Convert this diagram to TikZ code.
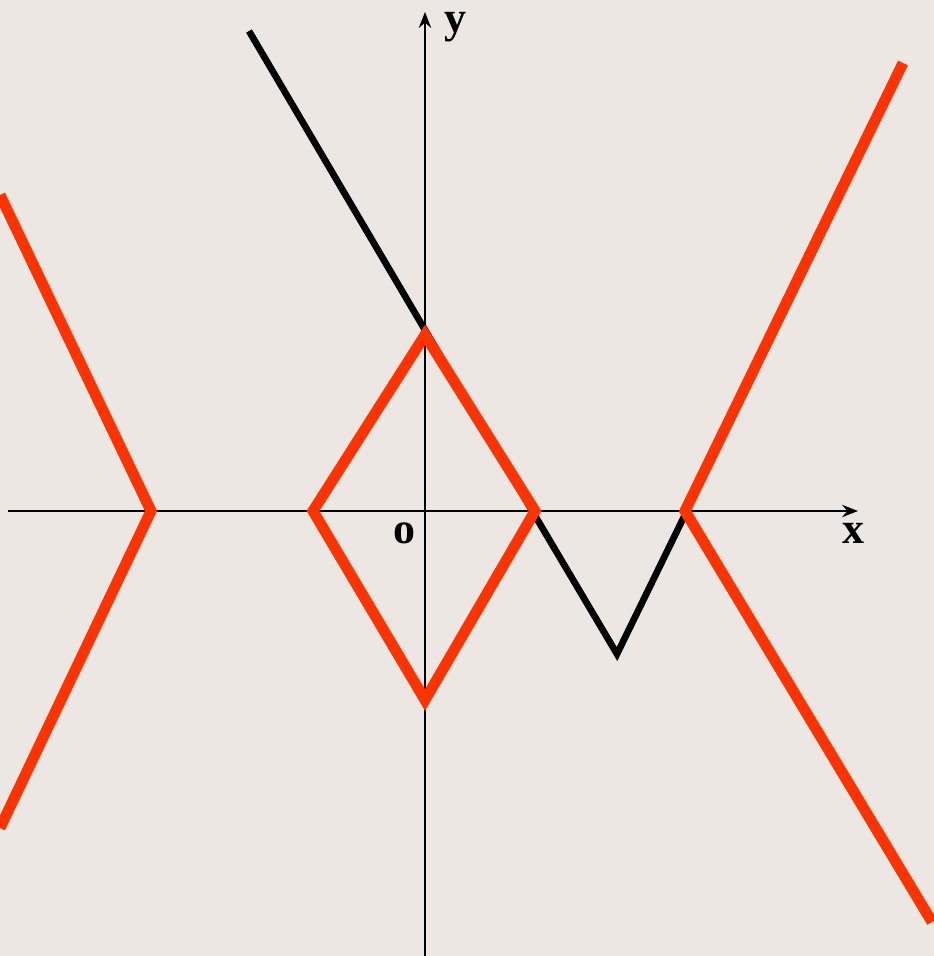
\documentclass[tikz,border=0pt]{standalone}
\usepackage{fontspec}
\setmainfont{Liberation Serif}
\usetikzlibrary{arrows.meta}
\definecolor{bg}{HTML}{ECE7E3}
\definecolor{redl}{HTML}{FF3300}
\tikzset{
  axis/.style={line width=0.6pt,-{Stealth[length=4.5pt,width=3.5pt]}},
  blk/.style={line width=1.9pt,black,line join=miter},
  rd/.style={line width=3.1pt,redl,line join=miter},
  lab/.style={font=\fontsize{12.5}{14}\selectfont\bfseries,inner sep=0pt}
}
\begin{document}
\begin{tikzpicture}[x=0.01cm,y=-0.01cm]
\fill[bg] (0,0) rectangle (934,956);
\useasboundingbox (0,0) rectangle (934,956);
\coordinate (xs) at (8,511);
\coordinate (xe) at (858,511);
\coordinate (ys) at (425,956);
\coordinate (ye) at (425,12);
\draw[axis] (xs) -- (xe);
\draw[axis] (ys) -- (ye);
\node[lab] (ly) at (455,27) {y};
\node[lab] (lx) at (853,533) {x};
\node[lab] (lo) at (404,533) {o};
% black curve
\coordinate (b1) at (249,31);
\coordinate (b2) at (425,330);
\coordinate (b3) at (617,654);
\coordinate (b4) at (819,240);
\draw[blk] (b1) -- (b2) -- (b3) -- (b4);
% red curves
\coordinate (l1) at (0,195);
\coordinate (l2) at (151,511);
\coordinate (l3) at (0,828);
\draw[rd] (l1) -- (l2) -- (l3);
\coordinate (d1) at (425,335);
\coordinate (d2) at (535,511);
\coordinate (d3) at (425,700);
\coordinate (d4) at (313,511);
\draw[rd] (d1) -- (d2) -- (d3) -- (d4) -- cycle;
\coordinate (r1) at (903,63);
\coordinate (r2) at (685,511);
\coordinate (r3) at (932,922);
\draw[rd] (r1) -- (r2) -- (r3);
\end{tikzpicture}
\end{document}
